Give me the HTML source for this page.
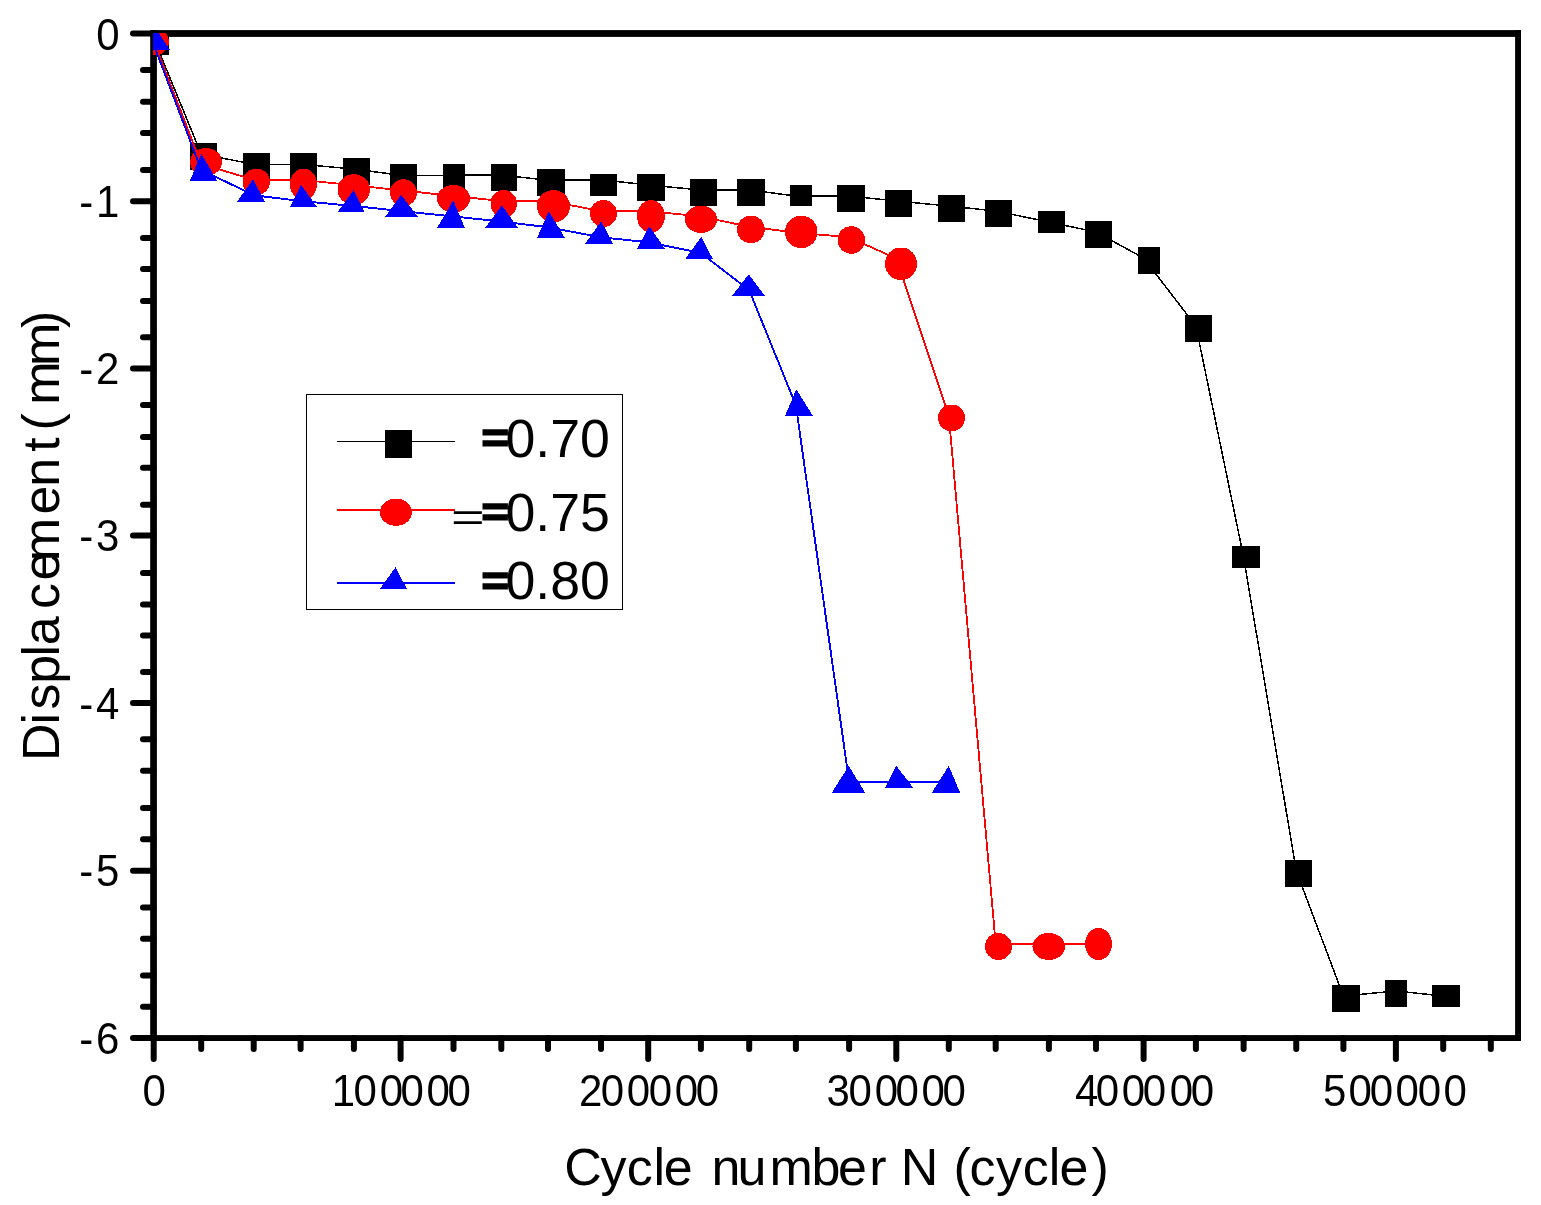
<!DOCTYPE html>
<html lang="en"><head><meta charset="utf-8"><title>Displacement vs cycle number</title>
<style>html,body{margin:0;padding:0;background:#fff;}body{width:1541px;height:1205px;overflow:hidden;}svg{display:block;}text{font-family:"Liberation Sans",Arial,sans-serif;fill:#000;}</style></head><body>
<svg width="1541" height="1205" viewBox="0 0 1541 1205">
<rect x="0" y="0" width="1541" height="1205" fill="#fff"/>
<defs><clipPath id="plot"><rect x="152.9" y="32.9" width="1366" height="1006"/></clipPath></defs>
<g fill="#000">
<rect x="150.2" y="30.1" width="6.7" height="1010.9"/>
<rect x="150.2" y="30.1" width="1370.8" height="6.8"/>
<rect x="1515.1" y="30.1" width="5.9" height="1010.9"/>
<rect x="150.2" y="1035.1" width="1370.8" height="5.9"/>
</g>
<g stroke="#000" stroke-width="6" fill="none" stroke-linecap="round">
<line x1="153.7" y1="1038" x2="153.7" y2="1059"/>
<line x1="400.6" y1="1038" x2="400.6" y2="1059"/>
<line x1="648.2" y1="1038" x2="648.2" y2="1059"/>
<line x1="896.3" y1="1038" x2="896.3" y2="1059"/>
<line x1="1143.6" y1="1038" x2="1143.6" y2="1059"/>
<line x1="1395.9" y1="1038" x2="1395.9" y2="1059"/>
<line x1="201.2" y1="1038" x2="201.2" y2="1049"/>
<line x1="253.7" y1="1038" x2="253.7" y2="1049"/>
<line x1="300.6" y1="1038" x2="300.6" y2="1049"/>
<line x1="353.9" y1="1038" x2="353.9" y2="1049"/>
<line x1="453.5" y1="1038" x2="453.5" y2="1049"/>
<line x1="501.3" y1="1038" x2="501.3" y2="1049"/>
<line x1="548" y1="1038" x2="548" y2="1049"/>
<line x1="601" y1="1038" x2="601" y2="1049"/>
<line x1="700.9" y1="1038" x2="700.9" y2="1049"/>
<line x1="749.2" y1="1038" x2="749.2" y2="1049"/>
<line x1="795.9" y1="1038" x2="795.9" y2="1049"/>
<line x1="849.1" y1="1038" x2="849.1" y2="1049"/>
<line x1="948.8" y1="1038" x2="948.8" y2="1049"/>
<line x1="995.7" y1="1038" x2="995.7" y2="1049"/>
<line x1="1048.9" y1="1038" x2="1048.9" y2="1049"/>
<line x1="1096" y1="1038" x2="1096" y2="1049"/>
<line x1="1195.9" y1="1038" x2="1195.9" y2="1049"/>
<line x1="1243.6" y1="1038" x2="1243.6" y2="1049"/>
<line x1="1296.25" y1="1038" x2="1296.25" y2="1049"/>
<line x1="1343.4" y1="1038" x2="1343.4" y2="1049"/>
<line x1="1443.2" y1="1038" x2="1443.2" y2="1049"/>
<line x1="1490.8" y1="1038" x2="1490.8" y2="1049"/>
<line x1="153.6" y1="33.4" x2="133" y2="33.4"/>
<line x1="153.6" y1="201.3" x2="133" y2="201.3"/>
<line x1="153.6" y1="368.5" x2="133" y2="368.5"/>
<line x1="153.6" y1="535.5" x2="133" y2="535.5"/>
<line x1="153.6" y1="702.9" x2="133" y2="702.9"/>
<line x1="153.6" y1="870.7" x2="133" y2="870.7"/>
<line x1="153.6" y1="1038" x2="133" y2="1038"/>
<line x1="153.6" y1="70" x2="143" y2="70"/>
<line x1="153.6" y1="101.7" x2="143" y2="101.7"/>
<line x1="153.6" y1="133" x2="143" y2="133"/>
<line x1="153.6" y1="170" x2="143" y2="170"/>
<line x1="153.6" y1="238" x2="143" y2="238"/>
<line x1="153.6" y1="269" x2="143" y2="269"/>
<line x1="153.6" y1="301" x2="143" y2="301"/>
<line x1="153.6" y1="337.2" x2="143" y2="337.2"/>
<line x1="153.6" y1="405" x2="143" y2="405"/>
<line x1="153.6" y1="436.9" x2="143" y2="436.9"/>
<line x1="153.6" y1="467.7" x2="143" y2="467.7"/>
<line x1="153.6" y1="504.8" x2="143" y2="504.8"/>
<line x1="153.6" y1="573" x2="143" y2="573"/>
<line x1="153.6" y1="604.4" x2="143" y2="604.4"/>
<line x1="153.6" y1="635.4" x2="143" y2="635.4"/>
<line x1="153.6" y1="671.9" x2="143" y2="671.9"/>
<line x1="153.6" y1="739.3" x2="143" y2="739.3"/>
<line x1="153.6" y1="770.7" x2="143" y2="770.7"/>
<line x1="153.6" y1="807.9" x2="143" y2="807.9"/>
<line x1="153.6" y1="839.3" x2="143" y2="839.3"/>
<line x1="153.6" y1="907.6" x2="143" y2="907.6"/>
<line x1="153.6" y1="938.8" x2="143" y2="938.8"/>
<line x1="153.6" y1="975.6" x2="143" y2="975.6"/>
<line x1="153.6" y1="1006.8" x2="143" y2="1006.8"/>
</g>
<g font-size="42">
<text transform="translate(0 1105.6) scale(1 1.035)" x="142.5" y="0">0</text>
<text transform="translate(0 1105.6) scale(1 1.035)" x="331.7 353.6 379.8 400.6 426.6 447.6" y="0">100000</text>
<text transform="translate(0 1105.6) scale(1 1.035)" x="579.1 600.7 626.7 648.8 674.8 695.8" y="0">200000</text>
<text transform="translate(0 1105.6) scale(1 1.035)" x="826.6 848.6 874.8 895.6 921.6 942.6" y="0">300000</text>
<text transform="translate(0 1105.6) scale(1 1.035)" x="1074.9 1095.7 1121.7 1142.8 1169.8 1190.8" y="0">400000</text>
<text transform="translate(0 1105.6) scale(1 1.035)" x="1323 1348.6 1369.7 1395.6 1417.7 1443.6" y="0">500000</text>
<text transform="translate(0 49.9) scale(1 1.035)" x="96.3" y="0">0</text>
<text transform="translate(0 217) scale(1 1.035)" x="79.2 96.1" y="0">-1</text>
<text transform="translate(0 383.6) scale(1 1.035)" x="79.2 96.1" y="0">-2</text>
<text transform="translate(0 551.3) scale(1 1.035)" x="79.2 96.1" y="0">-3</text>
<text transform="translate(0 718.6) scale(1 1.035)" x="79.2 96.1" y="0">-4</text>
<text transform="translate(0 886) scale(1 1.035)" x="79.2 96.1" y="0">-5</text>
<text transform="translate(0 1053.9) scale(1 1.035)" x="79.2 96.1" y="0">-6</text>
</g>
<text font-size="52" x="564.26 600.57 626.79 653.4 663.79 683.79 711.45 737.42 769.45 811.45 837.89 869.35 889.35 900.73 920.73 953.58 969.49 995.97 1022.79 1048.7 1059.49 1091.5" y="1184.8">Cycle number N (cycle)</text>
<text font-size="52" transform="rotate(-90)" x="-760.97 -724.48 -709.45 -683.65 -656.5 -645.31 -609.01 -580.41 -561.15 -514.61 -486.75 -451.79 -441.79 -430.42 -404.75 -365.95 -327.9" y="59.3">Displacement (mm)</text>
<g clip-path="url(#plot)">
<polyline fill="none" shape-rendering="crispEdges" stroke="#000" stroke-width="1.5" points="154,39 201.2,154 253.7,164.25 300.6,164.25 353.9,169 400.6,175.25 453.5,175.25 501.3,175 548,180.25 601,179.75 648.2,185 700.9,190 749.2,190 795.9,196 849.1,196 896.3,201 948.8,206 995.7,211 1048.9,222 1096,232 1143.6,258 1195.9,326 1243.6,557 1296.25,871 1343.4,996 1395.9,991 1443.2,996"/>
<g fill="#000" shape-rendering="crispEdges">
<rect x="142" y="28" width="27" height="27"/>
<rect x="190" y="143" width="27" height="27"/>
<rect x="242.5" y="153.25" width="27.5" height="27"/>
<rect x="290" y="153.25" width="27" height="27"/>
<rect x="343.25" y="158" width="26.75" height="27"/>
<rect x="390" y="164.25" width="27" height="26.75"/>
<rect x="443" y="164.25" width="22" height="26.75"/>
<rect x="490.5" y="164" width="26.5" height="26.75"/>
<rect x="537" y="169.25" width="28" height="26.75"/>
<rect x="590" y="174" width="27" height="22"/>
<rect x="637" y="174" width="28" height="27"/>
<rect x="690" y="179" width="27" height="27"/>
<rect x="737" y="179" width="28" height="27"/>
<rect x="790" y="185" width="22" height="21"/>
<rect x="837" y="185" width="28" height="26.75"/>
<rect x="885" y="190" width="27" height="26.75"/>
<rect x="938" y="195" width="27" height="27"/>
<rect x="985" y="200" width="27" height="27"/>
<rect x="1038" y="211" width="27" height="21.75"/>
<rect x="1085" y="221" width="27" height="27"/>
<rect x="1138" y="247" width="22" height="27"/>
<rect x="1185" y="315" width="27" height="27"/>
<rect x="1232" y="546" width="28" height="22"/>
<rect x="1285" y="860" width="27" height="27"/>
<rect x="1332" y="985" width="28" height="26.8"/>
<rect x="1385.2" y="980" width="21.8" height="26.8"/>
<rect x="1432.2" y="985" width="27.8" height="21.8"/>
</g>
<polyline fill="none" shape-rendering="crispEdges" stroke="#f00" stroke-width="1.8" points="153,39 201.2,164 253.7,179.75 300.6,179.75 353.9,185.25 400.6,190.25 453.5,196 501.3,201 548,201 601,211 648.2,211 700.9,216.5 749.2,226.75 795.9,232.5 849.1,237.25 896.3,258.5 948.8,415.5 995.7,944 1048.9,944 1096,944"/>
<g fill="#f00" shape-rendering="crispEdges">
<ellipse cx="155.5" cy="41.5" rx="13.5" ry="13.5"/>
<ellipse cx="206" cy="162" rx="16" ry="14"/>
<ellipse cx="256.25" cy="181.88" rx="13.75" ry="13.12"/>
<ellipse cx="303.5" cy="184.38" rx="13.5" ry="15.62"/>
<ellipse cx="353.75" cy="189.62" rx="16.25" ry="15.38"/>
<ellipse cx="403.5" cy="192.62" rx="13.5" ry="13.38"/>
<ellipse cx="453.5" cy="198.75" rx="16.5" ry="13.75"/>
<ellipse cx="503.75" cy="203.75" rx="13.25" ry="13.75"/>
<ellipse cx="553.5" cy="206.25" rx="16.5" ry="16.25"/>
<ellipse cx="603.5" cy="213.5" rx="13.5" ry="13.5"/>
<ellipse cx="651" cy="216.25" rx="14" ry="16.25"/>
<ellipse cx="701" cy="219.25" rx="16" ry="13.75"/>
<ellipse cx="751" cy="229.5" rx="14" ry="13.75"/>
<ellipse cx="801.25" cy="232" rx="16.25" ry="16.25"/>
<ellipse cx="851.25" cy="240" rx="13.75" ry="13.75"/>
<ellipse cx="901" cy="263.75" rx="16" ry="16.25"/>
<ellipse cx="951.5" cy="417.88" rx="13.5" ry="13.38"/>
<ellipse cx="998.5" cy="946.5" rx="13.5" ry="13.5"/>
<ellipse cx="1048.75" cy="946.5" rx="16.25" ry="13.5"/>
<ellipse cx="1098.5" cy="944" rx="13.5" ry="16"/>
</g>
<polyline fill="none" shape-rendering="crispEdges" stroke="#00f" stroke-width="1.9" points="153.5,44 201.2,169.75 253.7,195.25 300.6,201 353.9,206 400.6,211 453.5,216.5 501.3,221.5 548,227.25 601,237.25 648.2,242.25 700.9,253 749.2,290.25 795.9,405.25 849.1,781.75 896.3,781.75 948.8,781.75"/>
<g fill="#00f" shape-rendering="crispEdges">
<polygon points="155.6,27.9 169.8,49.9 141.5,49.9"/>
<polygon points="201.25,153.75 217,180.5 190,180.5"/>
<polygon points="253,179.25 265,201.75 237,201.75"/>
<polygon points="301.25,185 317,207 290,207"/>
<polygon points="353.75,190 364.5,212 337.5,212"/>
<polygon points="401.25,195 418,217 385,217"/>
<polygon points="453.25,200.5 465,228 437,228"/>
<polygon points="502,205.5 518,228 485,228"/>
<polygon points="548.75,211.25 565,238 537,238"/>
<polygon points="601.25,221.25 613,243.75 585,243.75"/>
<polygon points="649.25,226.25 665,248.75 637,248.75"/>
<polygon points="701.25,237 713,259.25 685,259.25"/>
<polygon points="748.75,274.25 765,296 732,296"/>
<polygon points="796.25,389.25 813,416 785,416"/>
<polygon points="848.75,765.75 865,792.5 832,792.5"/>
<polygon points="896.25,765.75 913,787.5 885,787.5"/>
<polygon points="948.75,765.75 960,792.5 932,792.5"/>
</g>
</g>
<rect x="306.5" y="394.5" width="316" height="215" fill="#fff" stroke="#000" stroke-width="1" shape-rendering="crispEdges"/>
<line x1="337.2" y1="441.3" x2="455" y2="441.3" stroke="#000" stroke-width="1.2" shape-rendering="crispEdges"/>
<rect x="385" y="430" width="27" height="27.8" fill="#000" shape-rendering="crispEdges"/>
<line x1="337.2" y1="509.7" x2="455" y2="509.7" stroke="#f00" stroke-width="2" shape-rendering="crispEdges"/>
<ellipse cx="396" cy="512.2" rx="16" ry="13.6" fill="#f00" shape-rendering="crispEdges"/>
<line x1="337.2" y1="582.8" x2="455" y2="582.8" stroke="#00f" stroke-width="2" shape-rendering="crispEdges"/>
<polygon points="395.6,567 406.8,589 380,589" fill="#00f" shape-rendering="crispEdges"/>
<g font-size="53.7">
<text transform="translate(481.65 451.9) scale(0.859 0.81)" stroke="#000" stroke-width="3.5" stroke-linejoin="miter">=</text>
<text x="505.4" y="456.8">0.70</text>
<text transform="translate(481.65 525.9) scale(0.859 0.81)" stroke="#000" stroke-width="3.5" stroke-linejoin="miter">=</text>
<text x="505.4" y="531">0.75</text>
<text transform="translate(481.65 594.8) scale(0.859 0.81)" stroke="#000" stroke-width="3.5" stroke-linejoin="miter">=</text>
<text x="505.4" y="598.8">0.80</text>
<text transform="translate(450.9 530.6) scale(1.075 0.735)">=</text>
</g>
</svg></body></html>
